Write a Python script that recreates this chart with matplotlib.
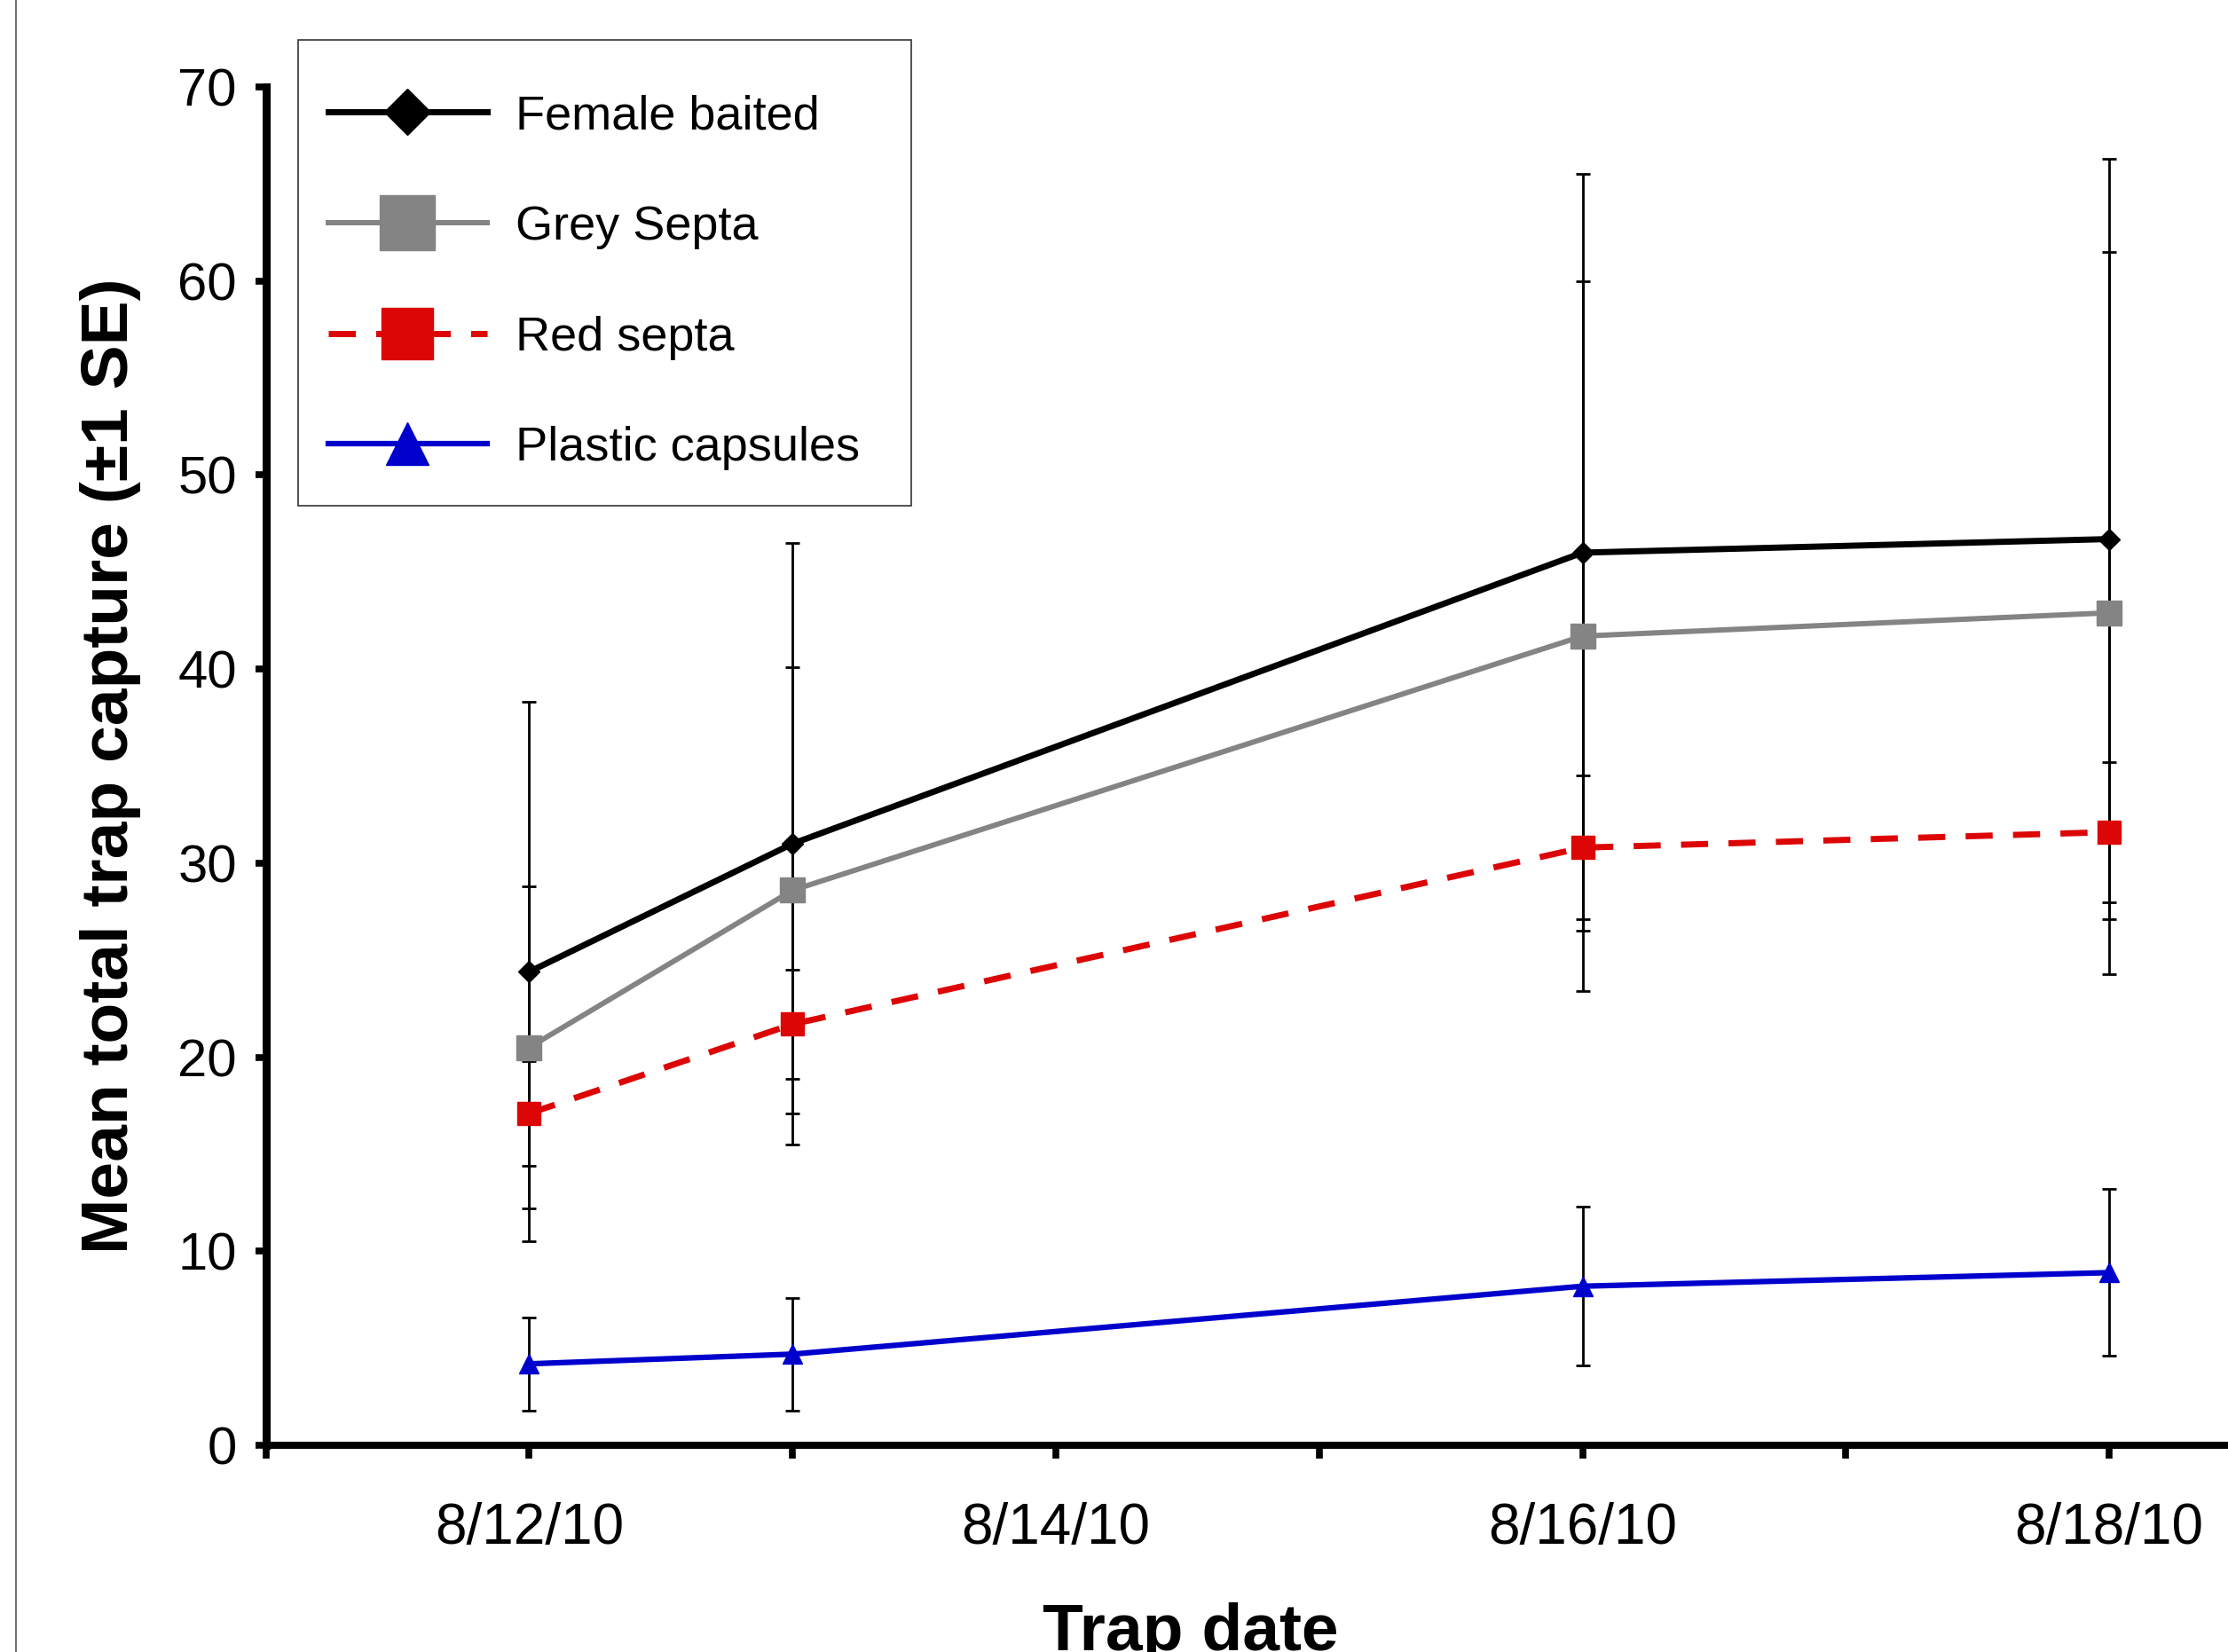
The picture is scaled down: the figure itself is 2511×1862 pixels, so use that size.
import numpy as np
import matplotlib
matplotlib.use("Agg")
import matplotlib.pyplot as plt
from matplotlib.lines import Line2D
from matplotlib.patches import Rectangle

plt.rcParams['font.family'] = ['Liberation Sans', 'DejaVu Sans']

# Data (mean trap capture and 1 SE)
dates = np.array(['2010-08-12', '2010-08-13', '2010-08-16', '2010-08-18'], dtype='datetime64[D]')

female_mean = [24.4, 31.0, 46.0, 46.7]
female_se = [13.9, 15.5, 19.5, 19.6]

grey_mean = [20.5, 28.6, 41.7, 42.9]
grey_se = [8.3, 11.5, 18.3, 18.6]

red_mean = [17.1, 21.7, 30.8, 31.6]
red_se = [2.7, 2.8, 3.7, 3.6]

plastic_mean = [4.2, 4.7, 8.2, 8.9]
plastic_se = [2.4, 2.9, 4.1, 4.3]

tick_days = np.arange('2010-08-11', '2010-08-20', dtype='datetime64[D]')
tick_labels = ['', '8/12/10', '', '8/14/10', '', '8/16/10', '', '8/18/10', '']
y_ticks = [0, 10, 20, 30, 40, 50, 60, 70]

series = [
    ("Female baited", female_mean, female_se, 'black', '-', 'D', 12, 5.0),
    ("Grey Septa", grey_mean, grey_se, '#848484', '-', 's', 20, 4.3),
    ("Red septa", red_mean, red_se, '#DD0606', (0, (4.4, 3.3)), 's', 19, 5.0),
    ("Plastic capsules", plastic_mean, plastic_se, '#0000CC', '-', '^', 16, 4.5),
]

W, H = 2511.0, 1862.0
fig = plt.figure(figsize=(W / 100, H / 100), dpi=100)
ax = fig.add_axes([0.1193, 0.1251, 0.9456, 0.8223])

# error bars first, then lines and markers on top
for name, mean, se, col, ls, mk, ms, lw in series:
    ax.errorbar(dates, mean, yerr=se, fmt='none', ecolor='black',
                elinewidth=2.0, capsize=5.5, capthick=2.0, zorder=2)

for name, mean, se, col, ls, mk, ms, lw in series:
    ax.plot(dates, mean, color=col, linestyle=ls, linewidth=lw, marker=mk,
            markersize=ms, markerfacecolor=col, markeredgecolor=col,
            label=name, zorder=3)

ax.set_xlim(np.datetime64('2010-08-11'), np.datetime64('2010-08-19'))
ax.set_ylim(0, 70)
ax.set_xticks(tick_days)
ax.set_xticklabels(tick_labels)
ax.set_yticks(y_ticks)

ax.spines['top'].set_visible(False)
ax.spines['right'].set_visible(False)
ax.spines['left'].set_linewidth(6.5)
ax.spines['bottom'].set_linewidth(5.8)
ax.spines['left'].set_capstyle('projecting')
ax.spines['bottom'].set_capstyle('projecting')

ax.tick_params(axis='x', direction='out', length=11, width=5.5, pad=35, labelsize=46)
ax.tick_params(axis='y', direction='out', length=8.5, width=5.5, pad=15, labelsize=43)

ax.set_ylabel("Mean total trap capture (\u00b11 SE)", fontsize=54, fontweight='bold')
ax.yaxis.set_label_coords(-0.059, 0.5)
ax.set_xlabel("Trap date", fontsize=54, fontweight='bold')
ax.xaxis.label.set_va('baseline')
ax.xaxis.set_label_coords(0.439, -0.151)

# legend content without its own frame; the box is drawn separately
leg = ax.legend(loc='upper left', bbox_to_anchor=(370 / W, 1 - 106 / H),
                bbox_transform=fig.transFigure, frameon=False,
                fontsize=39, markerscale=2.2, handlelength=3.3,
                handletextpad=0.6, labelspacing=1.38, borderpad=0,
                borderaxespad=0)

fig.add_artist(Rectangle((336 / W, 1 - 570 / H), 691 / W, 525 / H,
                         transform=fig.transFigure, fill=False,
                         edgecolor='#333333', linewidth=1.2))

# thin border line at the left edge of the picture
fig.add_artist(Line2D([18 / W, 18 / W], [0, 1], transform=fig.transFigure,
                      color='#555555', linewidth=1.2))

fig.savefig('out.png', dpi=100)
